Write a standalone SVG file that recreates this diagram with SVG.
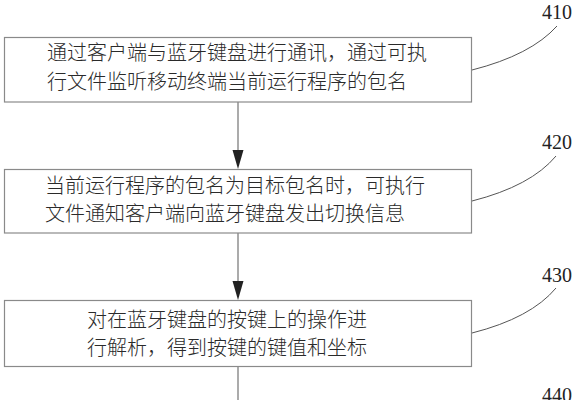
<svg xmlns="http://www.w3.org/2000/svg" width="577" height="400" viewBox="0 0 577 400">
<defs>
<style>
.box{fill:#fff;stroke:#8a8a8a;stroke-width:1.2}
.t{font-family:"Noto Sans CJK SC","Noto Sans",sans-serif;font-size:20px;font-weight:300;fill:#2a2a2a}
.num{font-family:"Liberation Serif",serif;font-size:20px;fill:#222}
.ln{stroke:#666;stroke-width:1.1;fill:none}
.ld{stroke:#555;stroke-width:1;fill:none}
</style>
</defs>
<rect width="577" height="400" fill="#fff"/>
<g id="connectors">
<line class="ln" x1="238" y1="102" x2="238" y2="150"/>
<path d="M232.5,150 L243.5,150 L238,169 Z" fill="#222"/>
<line class="ln" x1="238" y1="233" x2="238" y2="281"/>
<path d="M232.5,281 L243.5,281 L238,300 Z" fill="#222"/>
<line class="ln" x1="238" y1="366" x2="238" y2="400"/>
<path class="ld" d="M472,70 Q531,55 557,26"/>
<path class="ld" d="M472,201 Q531,186 556,156"/>
<path class="ld" d="M472,333 Q531,318 556,288"/>
</g>
<g id="node410">
<rect class="box" x="4.5" y="37.5" width="467" height="64.5"/>
<text class="t" x="47" y="60">通过客户端与蓝牙键盘进行通讯，通过可执</text>
<text class="t" x="47" y="88.5">行文件监听移动终端当前运行程序的包名</text>
<text class="num" x="542" y="19">410</text>
</g>
<g id="node420">
<rect class="box" x="4.5" y="169.5" width="467" height="63.5"/>
<text class="t" x="45" y="193">当前运行程序的包名为目标包名时，可执行</text>
<text class="t" x="45" y="220.5">文件通知客户端向蓝牙键盘发出切换信息</text>
<text class="num" x="542" y="149">420</text>
</g>
<g id="node430">
<rect class="box" x="4.5" y="300.5" width="467" height="66"/>
<text class="t" x="87" y="327">对在蓝牙键盘的按键上的操作进</text>
<text class="t" x="87" y="354.5">行解析，得到按键的键值和坐标</text>
<text class="num" x="542" y="282">430</text>
</g>
<g id="node440">
<text class="num" x="542" y="402">440</text>
</g>
</svg>
